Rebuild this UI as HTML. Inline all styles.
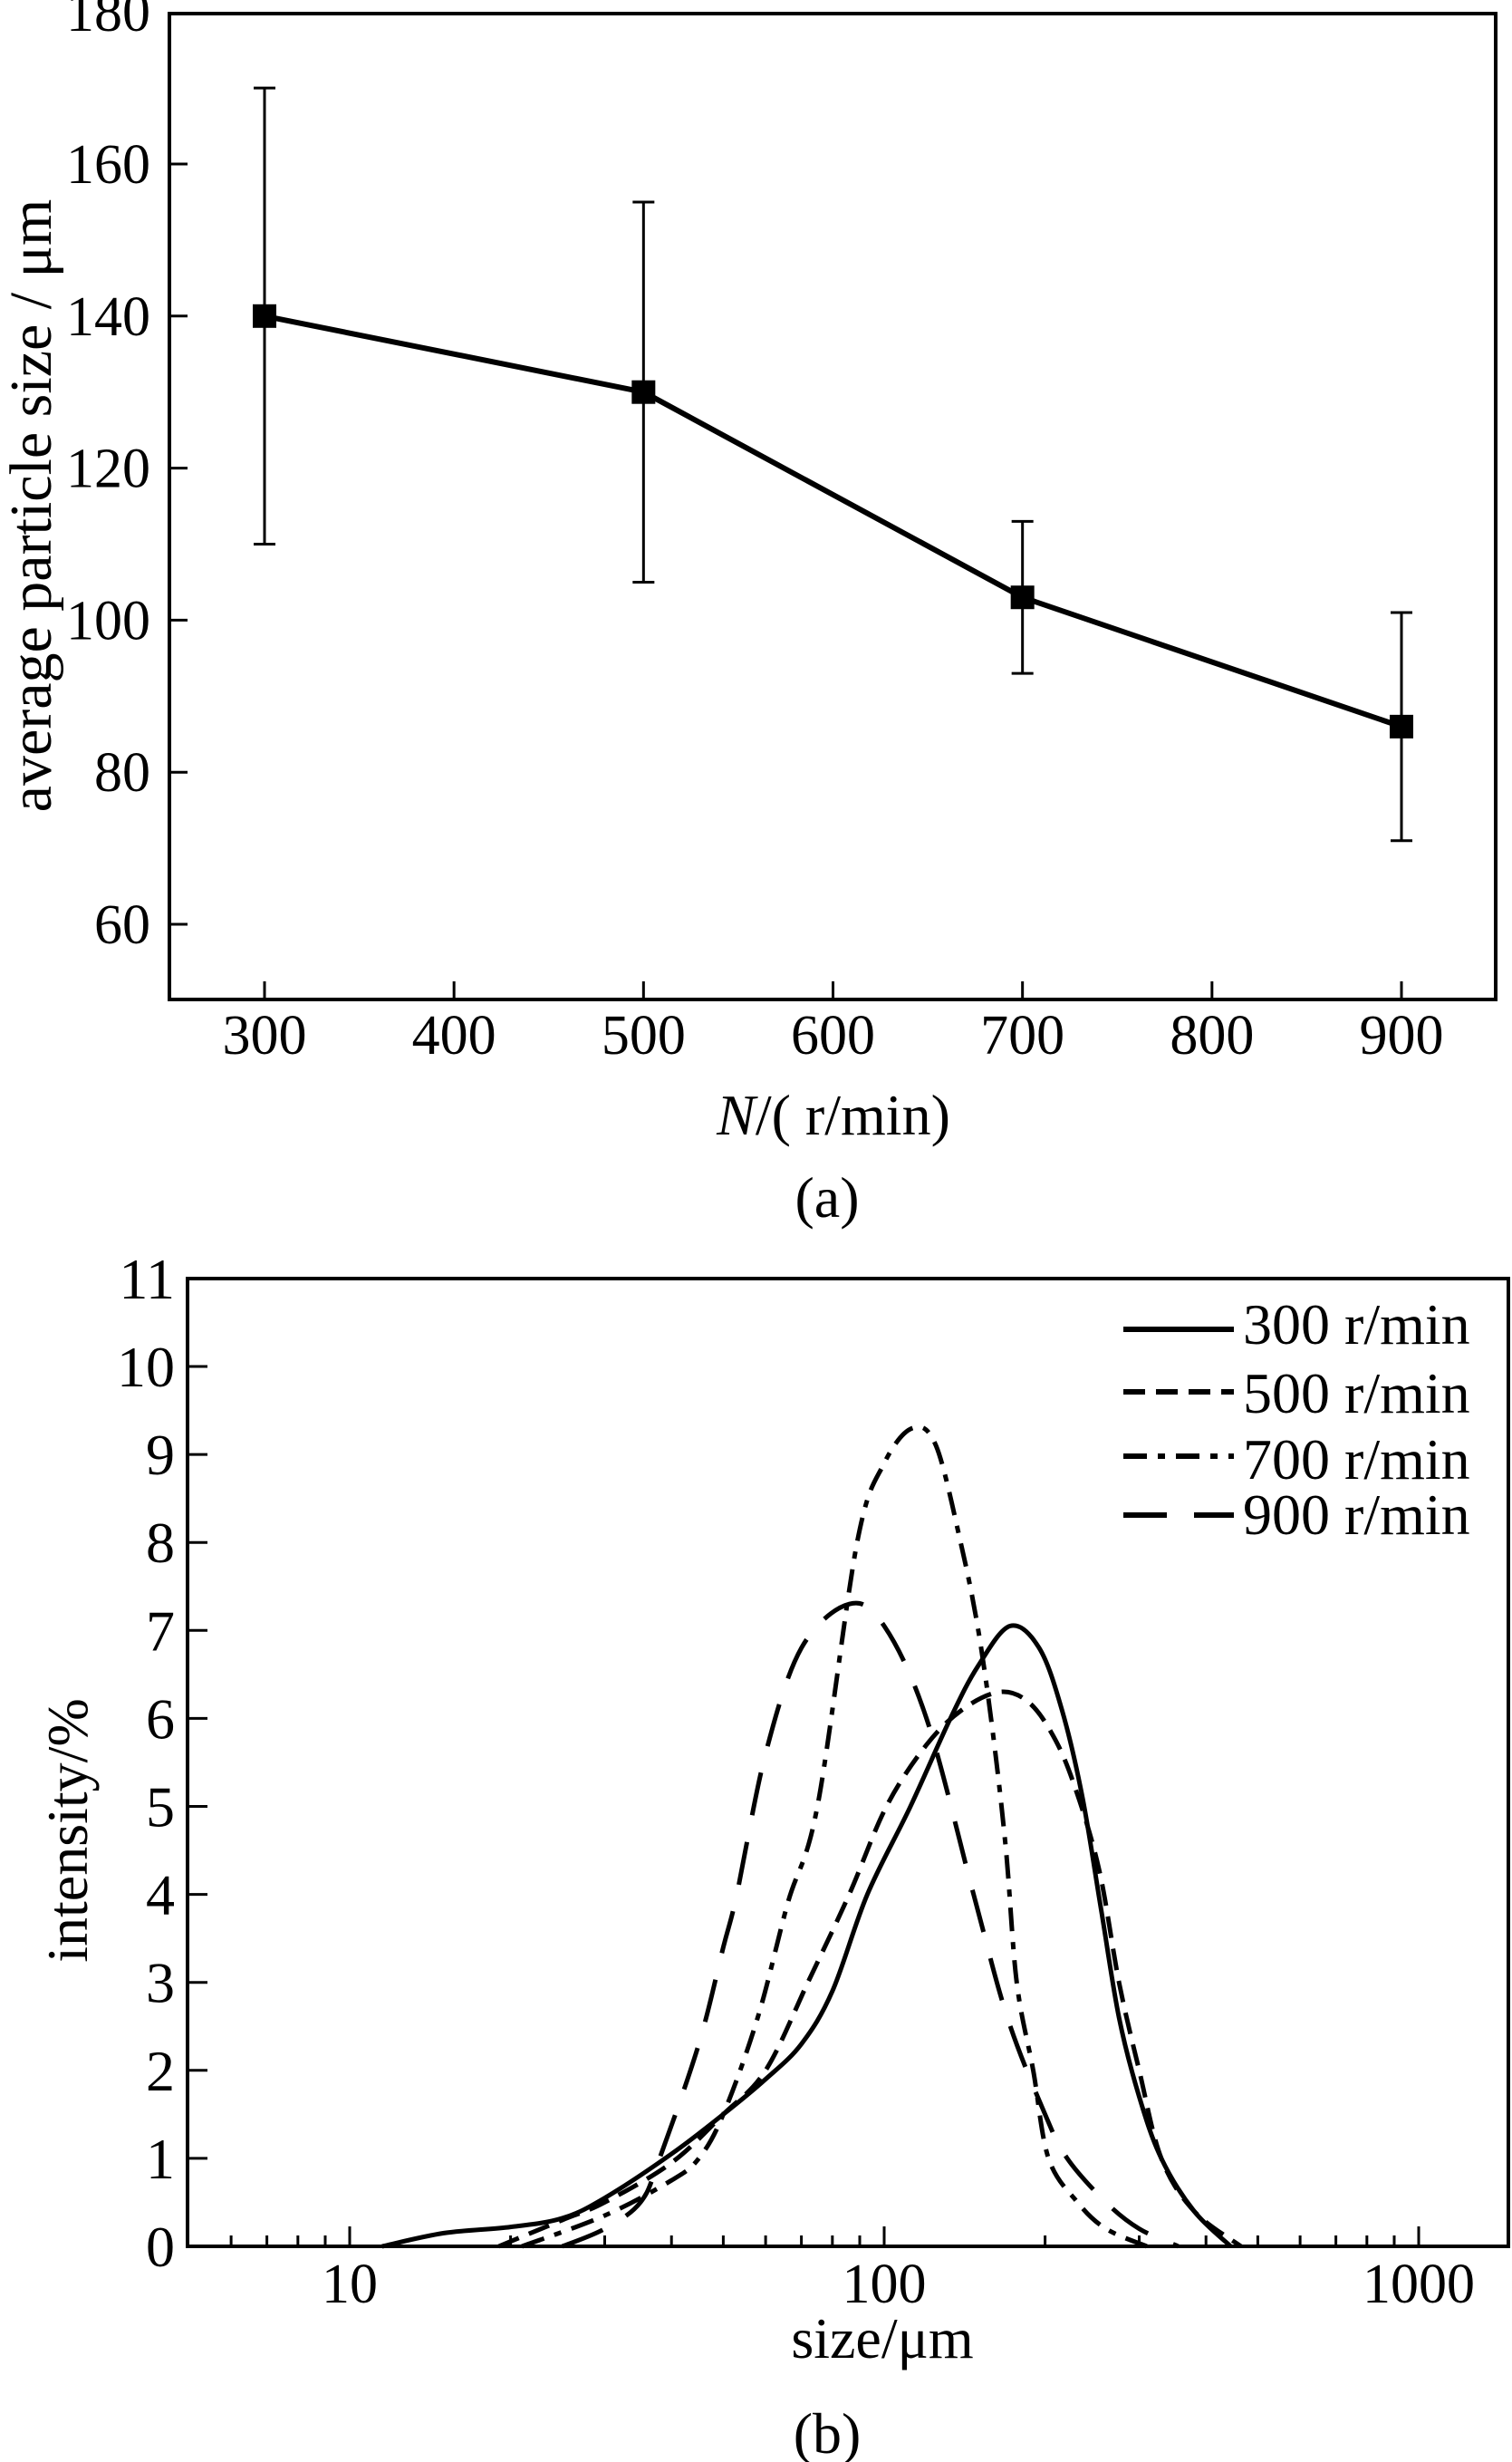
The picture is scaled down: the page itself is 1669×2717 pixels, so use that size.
<!DOCTYPE html>
<html><head><meta charset="utf-8"><style>
html,body{margin:0;padding:0;background:#fff;}
svg{display:block;font-family:"Liberation Serif","Times New Roman",serif;}
text{fill:#000;}
</style></head><body>
<svg id="fig" width="1669" height="2717" viewBox="0 0 1669 2717" xmlns="http://www.w3.org/2000/svg">
<g id="chartA"></g>
<g id="chartB"></g>
</svg>
<script>
// ---- Chart (a) data ----
const aSpeeds = [300, 500, 700, 900];
const aMeans = [140, 130, 103, 86];
const aLow = [110, 105, 93, 71];
const aHigh = [170, 155, 113, 101];
const aXTicks = [300, 400, 500, 600, 700, 800, 900];
const aYTicks = [60, 80, 100, 120, 140, 160, 180];

// ---- Chart (b) data ----
const bSeriesNames = ["300 r/min", "500 r/min", "700 r/min", "900 r/min"];
const bSize300 = [11.5,15,20,25,30,40,50,60,70,80,93,112,133,150,172,195,215,235,255,275,300,330,380,445];
const bVal300  = [0,0.15,0.22,0.32,0.55,1.05,1.5,1.9,2.3,2.9,4.0,5.0,6.0,6.6,7.05,6.8,6.1,5.1,3.8,2.6,1.7,1.0,0.4,0];
const bSize500 = [19,25,30,40,50,60,72,86,101,120,140,164,185,205,225,252,275,300,330,380,465];
const bVal500  = [0,0.3,0.5,0.95,1.5,2.0,3.0,4.0,5.0,5.7,6.1,6.3,6.2,5.85,5.3,4.3,3.0,2.0,1.0,0.4,0];
const bSize700 = [21,30,40,45,50,58,66,75,89,100,113,125,139,150,160,169,177,190,203,230,260,310];
const bVal700  = [0,0.35,0.75,1.0,1.5,2.6,3.9,5.0,8.0,8.9,9.3,9.1,8.0,7.0,5.8,4.5,3.0,2.0,1.0,0.5,0.2,0];
const bSize900 = [25,30,35,38,45,50,53,60,70,86,100,120,147,170,200,220,260,300,355];
const bVal900  = [0,0.2,0.5,1.0,2.3,3.4,4.0,5.6,6.8,7.3,7.05,6.0,4.0,2.6,1.5,1.0,0.5,0.2,0];
const bYTicks = [0,1,2,3,4,5,6,7,8,9,10,11];
const bXMajor = [10, 100, 1000];
const bXMinor = [6,7,8,9,20,30,40,50,60,70,80,90,200,300,400,500,600,700,800,900];

const NS = "http://www.w3.org/2000/svg";
function mk(parent, tag, attrs, txt){
  const e = document.createElementNS(NS, tag);
  for (const k in attrs) e.setAttribute(k, attrs[k]);
  if (txt !== undefined) e.textContent = txt;
  parent.appendChild(e);
  return e;
}

// ---------- Chart A ----------
const A = document.getElementById('chartA');
const aL = 187, aR = 1651, aT = 15, aB = 1103;
const ax = v => 292 + (v - 300) * (1547 - 292) / 600;
const ay = v => 181 + (160 - v) * 8.39;

let fr = mk(A,'rect',{x:aL,y:aT,width:aR-aL,height:aB-aT,fill:'none',stroke:'#000','stroke-width':4});



aXTicks.forEach(t=>{
  const l = mk(A,'line',{x1:ax(t),x2:ax(t),y1:aB,y2:aB-20,stroke:'#000','stroke-width':3});
  
  
  const tx = mk(A,'text',{x:ax(t),y:1163,'font-size':62,'text-anchor':'middle'},String(t));
  
  
});
aYTicks.forEach(t=>{
  const y = ay(t);
  if (t < 180) {
    const l = mk(A,'line',{x1:aL,x2:aL+20,y1:y,y2:y,stroke:'#000','stroke-width':3});
    
    
  }
  const tx = mk(A,'text',{x:166,y:y+21,'font-size':62,'text-anchor':'end'},String(t));
  
  
});

// error bars
aSpeeds.forEach((s,i)=>{
  const x = ax(s);
  const g = mk(A,'g',{});
  
  
  mk(g,'line',{x1:x,x2:x,y1:ay(aHigh[i]),y2:ay(aLow[i]),stroke:'#000','stroke-width':3});
  mk(g,'line',{x1:x-12,x2:x+12,y1:ay(aHigh[i]),y2:ay(aHigh[i]),stroke:'#000','stroke-width':3});
  mk(g,'line',{x1:x-12,x2:x+12,y1:ay(aLow[i]),y2:ay(aLow[i]),stroke:'#000','stroke-width':3});
});
const pl = mk(A,'polyline',{points:aSpeeds.map((s,i)=>ax(s)+','+ay(aMeans[i])).join(' '),fill:'none',stroke:'#000','stroke-width':6,'stroke-linejoin':'round'});


aSpeeds.forEach((s,i)=>{
  const r = mk(A,'rect',{x:ax(s)-13,y:ay(aMeans[i])-13,width:26,height:26,fill:'#000'});
  
  
});

let t1 = mk(A,'text',{x:0,y:0,'font-size':66,'text-anchor':'middle',transform:'translate(56,558) rotate(-90)'},'average particle size / μm');


let t2 = mk(A,'text',{x:920,y:1252,'font-size':64,'text-anchor':'middle'});


mk(t2,'tspan',{'font-style':'italic'},'N');
mk(t2,'tspan',{},'/( r/min)');
let t3 = mk(A,'text',{x:913,y:1343,'font-size':64,'text-anchor':'middle'},'(a)');



// ---------- Chart B ----------
const B = document.getElementById('chartB');
const bL = 207, bR = 1665, bT = 1411, bB = 2479;
const dec = 590;
const bx = v => 386 + (Math.log10(v) - 1) * dec;
const by = v => bB - v * 97.1;

let fb = mk(B,'rect',{x:bL,y:bT,width:bR-bL,height:bB-bT,fill:'none',stroke:'#000','stroke-width':4});



bYTicks.forEach(t=>{
  const y = by(t);
  if (t>0 && t<11){
    const l = mk(B,'line',{x1:bL,x2:bL+22,y1:y,y2:y,stroke:'#000','stroke-width':3});
    
    
  }
  const tx = mk(B,'text',{x:193,y:y+22,'font-size':64,'text-anchor':'end'},String(t));
  
  
});
bXMajor.forEach(t=>{
  const l = mk(B,'line',{x1:bx(t),x2:bx(t),y1:bB,y2:bB-22,stroke:'#000','stroke-width':3});
  
  
  const tx = mk(B,'text',{x:bx(t),y:2541,'font-size':62,'text-anchor':'middle'},String(t));
  
  
});
bXMinor.forEach(t=>{
  const l = mk(B,'line',{x1:bx(t),x2:bx(t),y1:bB,y2:bB-12,stroke:'#000','stroke-width':3});
  
  
});

function smoothPath(xs, ys){
  const p = xs.map((s,i)=>[bx(s), by(ys[i])]);
  let d = 'M'+p[0][0].toFixed(1)+','+p[0][1].toFixed(1);
  for (let i=0;i<p.length-1;i++){
    const p0=p[i-1]||p[i], p1=p[i], p2=p[i+1], p3=p[i+2]||p[i+1];
    const c1=[p1[0]+(p2[0]-p0[0])/6, p1[1]+(p2[1]-p0[1])/6];
    const c2=[p2[0]-(p3[0]-p1[0])/6, p2[1]-(p3[1]-p1[1])/6];
    d += ' C'+c1.map(v=>v.toFixed(1)).join(',')+' '+c2.map(v=>v.toFixed(1)).join(',')+' '+p2[0].toFixed(1)+','+p2[1].toFixed(1);
  }
  return d;
}
const dashes = ['', '24,12', '26,12,8,12', '48,30'];
const sizes = [bSize300, bSize500, bSize700, bSize900];
const vals = [bVal300, bVal500, bVal700, bVal900];
const cnames = ['curve-300','curve-500','curve-700','curve-900'];
sizes.forEach((xs,k)=>{
  const attrs = {d:smoothPath(xs, vals[k]), fill:'none', stroke:'#000','stroke-width':5};
  if (dashes[k]) attrs['stroke-dasharray'] = dashes[k];
  const c = mk(B,'path',attrs);
  
  
});

// legend
const lg = mk(B,'g',{});


const lineYs = [1467, 1536, 1607, 1672];
const textYs = [1483, 1559, 1632, 1693];
bSeriesNames.forEach((n,k)=>{
  const la = {x1:1240,x2:1362,y1:lineYs[k],y2:lineYs[k],stroke:'#000','stroke-width':6};
  if (dashes[k]) la['stroke-dasharray'] = dashes[k];
  const ln = mk(lg,'line',la);
  
  
  const tx = mk(lg,'text',{x:1372,y:textYs[k],'font-size':64},n);
  
  
});

let b1 = mk(B,'text',{x:0,y:0,'font-size':64,'text-anchor':'middle',transform:'translate(96,2020) rotate(-90)'},'intensity/%');


let b2 = mk(B,'text',{x:974,y:2602,'font-size':64,'text-anchor':'middle'},'size/μm');


let b3 = mk(B,'text',{x:913,y:2707,'font-size':64,'text-anchor':'middle'},'(b)');


</script>
</body></html>
